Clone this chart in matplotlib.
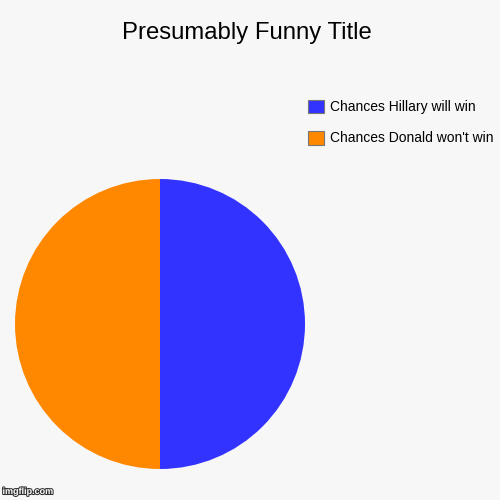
import matplotlib
matplotlib.use("Agg")
import matplotlib.pyplot as plt
import matplotlib.patheffects as pe

# chart data
labels = ["Chances Hillary will win", "Chances Donald won't win"]
values = [50, 50]
colors = ["#3333ff", "#ff8800"]
title = "Presumably Funny Title"

plt.rcParams["font.family"] = ["Liberation Sans", "DejaVu Sans"]

bg = "#f7f7f7"
fig = plt.figure(figsize=(5, 5), dpi=100, facecolor=bg)

# pie centered at (160, 324) px, radius 145 px
ax = fig.add_axes([15 / 500, 1 - 469 / 500, 290 / 500, 290 / 500])
ax.set_facecolor(bg)
wedges, _ = ax.pie(values, colors=colors, startangle=90, counterclock=False,
                   radius=1, wedgeprops=dict(linewidth=0))
ax.set_xlim(-1, 1)
ax.set_ylim(-1, 1)
ax.set_aspect("equal")
ax.axis("off")

fig.text(0.494, 1 - 33 / 500, title, ha="center", va="center", fontsize=17.2)

leg = fig.legend(wedges, labels, loc="upper left",
                 bbox_to_anchor=(308 / 500, 1 - 99.5 / 500),
                 frameon=False, fontsize=10, borderpad=0, borderaxespad=0,
                 handlelength=1.15, handleheight=1.15, handletextpad=0.43,
                 labelspacing=1.2)
for h in leg.legend_handles:
    h.set_edgecolor("#777777")
    h.set_linewidth(0.8)

fig.text(0.005, 0.012, "imgflip.com", fontsize=6.5, color="white",
         fontweight="bold",
         path_effects=[pe.withStroke(linewidth=1.5, foreground="#333333")])

fig.savefig("out.png", dpi=100, facecolor=bg)
